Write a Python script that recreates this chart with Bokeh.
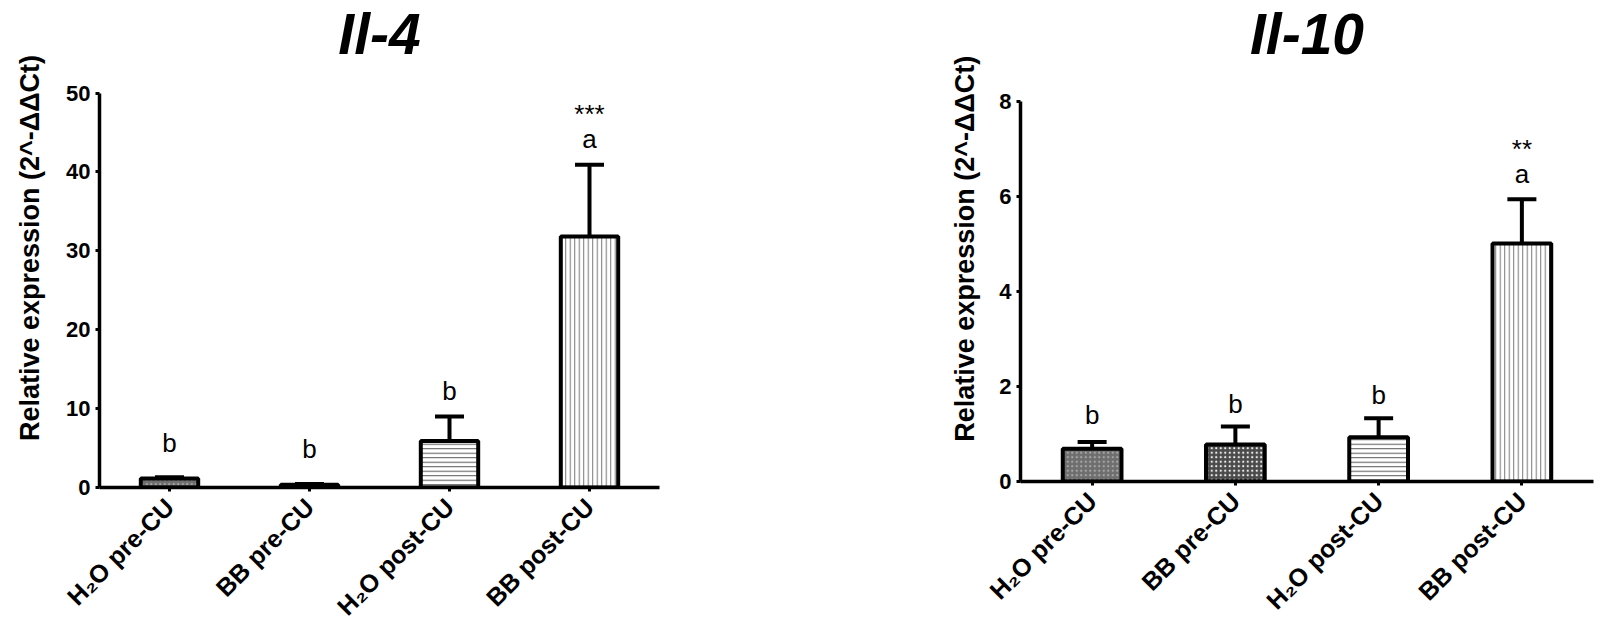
import math
from bokeh.plotting import figure
from bokeh.models import Whisker, TeeHead, Range1d, FixedTicker, ColumnDataSource
from bokeh.layouts import row
from bokeh.core.properties import value
from bokeh.embed import file_html
from bokeh.resources import INLINE

# ---------------- data ----------------
categories = ["H\u2082O pre-CU", "BB pre-CU", "H\u2082O post-CU", "BB post-CU"]

il4_mean = [1.15, 0.35, 5.9, 31.8]
il4_err = [0.15, 0.10, 3.1, 9.1]
il4_letters = ["b", "b", "b", "a"]
il4_letter_y = [5.7, 4.9, 12.2, 44.2]
il4_star = ["***"]
il4_star_y = [47.3]
il4_title_y = 57.5

il10_mean = [0.69, 0.78, 0.93, 5.01]
il10_err = [0.14, 0.38, 0.40, 0.93]
il10_letters = ["b", "b", "b", "a"]
il10_letter_y = [1.41, 1.64, 1.83, 6.48]
il10_star = ["**"]
il10_star_y = [7.0]
il10_title_y = 9.43

il4_ticks = [0, 10, 20, 30, 40, 50]
il10_ticks = [0, 2, 4, 6, 8]

# ---------------- styles ----------------
fills = ["#6e6e6e", "#4a4a4a", "white", "white"]
hatches = ["dot", "dot", "horizontal_line", "vertical_line"]
hatch_colors = ["#a8a8a8", "#eeeeee", "#555555", "#777777"]
hatch_weights = [1.2, 1.8, 1.0, 1.0]

FONT = "Liberation Sans"


def make_panel(title, title_y, means, errs, letters, letter_y, star, star_y, ticks,
               frame_w, frame_h, axis_px, bl, br, bb, ylabel, ylabel_standoff):
    xs = [i + 1 for i in range(len(categories))]
    ymax = ticks[-1]
    # frame reaches up to the top of the figure; the y axis itself stops at ymax
    ytop = ymax * frame_h / axis_px
    p = figure(x_range=Range1d(0.5, len(categories) + 0.5),
               y_range=Range1d(0, ytop),
               frame_width=frame_w, frame_height=frame_h, output_backend="svg",
               toolbar_location=None, min_border_left=bl, min_border_right=br,
               min_border_top=8, min_border_bottom=bb)
    p.outline_line_color = None
    p.xgrid.grid_line_color = None
    p.ygrid.grid_line_color = None

    src = ColumnDataSource(dict(
        x=xs, top=means,
        upper=[m + e for m, e in zip(means, errs)],
        fill=fills, hatch=hatches, hcol=hatch_colors, hw=hatch_weights))

    p.vbar(x="x", top="top", bottom=0, width=0.41, source=src,
           fill_color="fill", hatch_pattern="hatch", hatch_color="hcol",
           hatch_weight="hw", hatch_scale=4.5,
           line_color="black", line_width=4)

    w = Whisker(base="x", upper="upper", lower="top", source=src,
                line_color="black", line_width=4,
                upper_head=TeeHead(size=29, line_width=4, line_color="black"),
                lower_head=None)
    p.add_layout(w)

    p.text(x=xs, y=letter_y, text=letters,
           text_font=value(FONT), text_font_size="26px",
           text_align="center", text_baseline="middle", text_color="black")
    p.text(x=[xs[-1]], y=star_y, text=star,
           text_font=value(FONT), text_font_size="26px",
           text_align="center", text_baseline="middle", text_color="black")

    # chart title, above the top of the y axis
    p.text(x=[(xs[0] + xs[-1]) / 2], y=[title_y], text=[title],
           text_font=value(FONT), text_font_size="57px", text_font_style="bold italic",
           text_align="center", text_baseline="middle", text_color="black")

    for ax in (p.xaxis[0], p.yaxis[0]):
        ax.axis_line_width = 3.5
        ax.axis_line_color = "black"
        ax.major_tick_line_width = 3
        ax.major_tick_line_color = "black"
        ax.major_tick_in = 0
        ax.major_tick_out = 4
        ax.minor_tick_line_color = None
        ax.major_label_text_font = FONT
        ax.major_label_text_font_style = "bold"
        ax.major_label_text_color = "black"

    p.xaxis.ticker = FixedTicker(ticks=xs)
    p.xaxis.major_label_overrides = {x: c for x, c in zip(xs, categories)}
    p.xaxis.major_label_orientation = math.pi / 4
    p.xaxis.major_label_text_font_size = "25px"
    p.xaxis.major_label_standoff = 11

    p.yaxis.bounds = (0, ymax)
    p.yaxis.ticker = FixedTicker(ticks=ticks)
    p.yaxis.major_label_text_font_size = "22px"
    p.yaxis.major_label_standoff = 5
    p.yaxis.axis_label = ylabel
    p.yaxis.axis_label_text_font = FONT
    p.yaxis.axis_label_text_font_size = "27px"
    p.yaxis.axis_label_text_font_style = "bold"
    p.yaxis.axis_label_text_color = "black"
    p.yaxis.axis_label_standoff = ylabel_standoff
    return p


p1 = make_panel("Il-4", il4_title_y, il4_mean, il4_err, il4_letters, il4_letter_y,
                il4_star, il4_star_y, il4_ticks,
                frame_w=560, frame_h=479, axis_px=394.5, bl=99, br=271, bb=146,
                ylabel="Relative expression (2^-\u0394\u0394Ct)", ylabel_standoff=18)
p2 = make_panel("Il-10", il10_title_y, il10_mean, il10_err, il10_letters, il10_letter_y,
                il10_star, il10_star_y, il10_ticks,
                frame_w=573, frame_h=473, axis_px=380, bl=90, br=10, bb=152,
                ylabel="Relative expression  (2^-\u0394\u0394Ct)", ylabel_standoff=16)

layout = row(p1, p2)
open("out.html", "w").write(file_html(layout, INLINE))
